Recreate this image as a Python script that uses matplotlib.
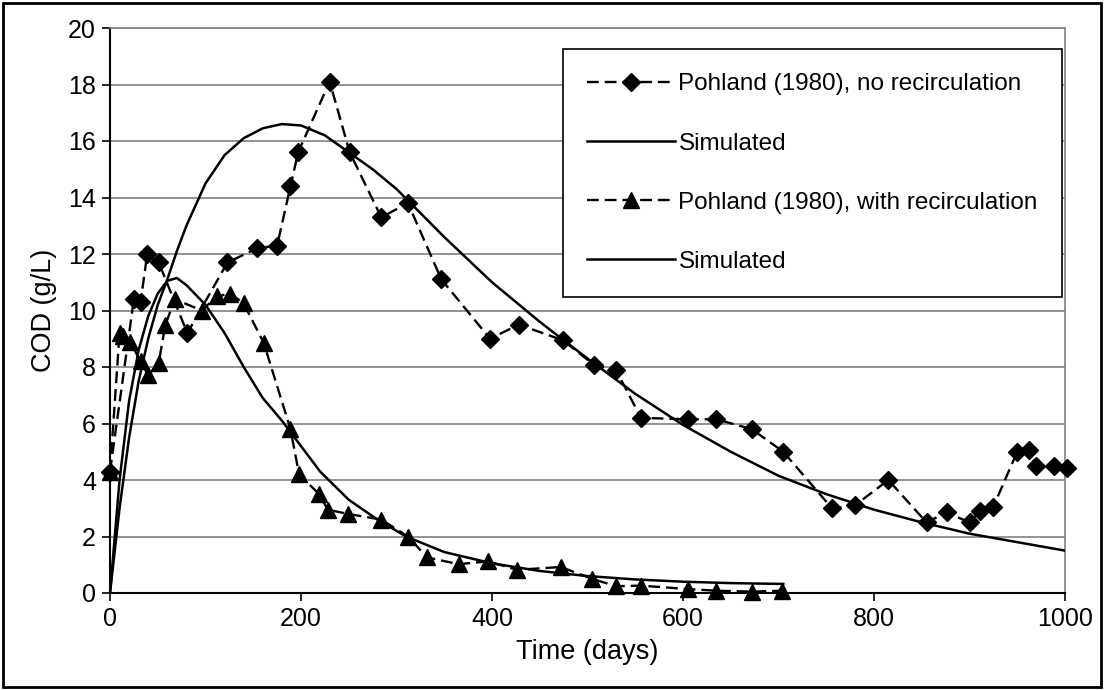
import matplotlib
matplotlib.use("Agg")
import matplotlib.pyplot as plt
from matplotlib.patches import Rectangle

plt.rcParams['font.family'] = ['Liberation Sans', 'DejaVu Sans']

# Observed data, no recirculation
norec_days = [0, 25, 32, 39, 51, 81, 123, 154, 175, 189, 197, 230, 251, 284, 312, 347,
              398, 428, 474, 507, 530, 556, 605, 635, 672, 705, 756, 780, 815, 855,
              876, 900, 911, 925, 950, 962, 970, 989, 1002]
norec_cod = [4.3, 10.4, 10.3, 12.0, 11.7, 9.2, 11.7, 12.2, 12.3, 14.4, 15.6, 18.1, 15.6,
             13.3, 13.8, 11.1, 9.0, 9.5, 8.95, 8.07, 7.88, 6.2, 6.15, 6.15, 5.8, 5.0,
             3.0, 3.1, 4.0, 2.5, 2.85, 2.5, 2.9, 3.06, 5.0, 5.06, 4.5, 4.5, 4.42]

# Simulated, no recirculation
sim_norec_days = [0, 10, 20, 30, 40, 50, 60, 70, 80, 100, 120, 140, 160, 180, 200, 225,
                  250, 275, 300, 350, 400, 450, 500, 550, 600, 650, 700, 750, 800, 850,
                  900, 950, 1000]
sim_norec_cod = [0, 3.0, 5.5, 7.5, 9.0, 10.2, 11.1, 12.1, 13.0, 14.5, 15.5, 16.1, 16.45,
                 16.6, 16.55, 16.2, 15.6, 15.0, 14.3, 12.6, 11.0, 9.6, 8.3, 7.05, 5.95,
                 5.0, 4.15, 3.5, 2.95, 2.5, 2.1, 1.8, 1.5]

# Observed data, with recirculation
rec_days = [0, 10, 14, 21, 32, 40, 51, 58, 68, 96, 112, 126, 140, 161, 189, 198, 219,
            228, 249, 284, 312, 332, 365, 396, 426, 472, 505, 530, 556, 605, 635, 672, 704]
rec_cod = [4.3, 9.2, 9.1, 8.9, 8.2, 7.7, 8.15, 9.5, 10.4, 10.0, 10.5, 10.6, 10.25, 8.85,
           5.8, 4.2, 3.5, 2.95, 2.8, 2.6, 2.0, 1.26, 1.02, 1.12, 0.82, 0.92, 0.5, 0.24,
           0.26, 0.14, 0.08, 0.05, 0.08]

# Simulated, with recirculation
sim_rec_days = [0, 10, 20, 30, 40, 50, 60, 70, 80, 100, 120, 140, 160, 180, 200, 220,
                250, 280, 310, 350, 400, 450, 500, 550, 600, 650, 705]
sim_rec_cod = [0, 4.0, 6.8, 8.6, 9.8, 10.6, 11.05, 11.15, 10.9, 10.2, 9.2, 8.0, 6.9,
               6.1, 5.2, 4.3, 3.3, 2.6, 2.0, 1.45, 1.05, 0.78, 0.6, 0.48, 0.4, 0.35, 0.32]

fig = plt.figure(figsize=(11.04, 6.9), dpi=100)
ax = fig.add_axes([110/1104, 1 - 593/690, (1065-110)/1104, (593-28)/690])

dash = (0, (5, 2.5))
ax.plot(norec_days, norec_cod, color='black', lw=1.7, linestyle=dash, marker='D',
        markersize=9.5, label='Pohland (1980), no recirculation', clip_on=False, zorder=4)
ax.plot(sim_norec_days, sim_norec_cod, color='black', lw=1.8, label='Simulated', zorder=3)
ax.plot(rec_days, rec_cod, color='black', lw=1.7, linestyle=dash, marker='^',
        markersize=11, label='Pohland (1980), with recirculation', clip_on=False, zorder=4)
ax.plot(sim_rec_days, sim_rec_cod, color='black', lw=1.8, label='Simulated', zorder=3)

ax.set_xlim(0, 1000)
ax.set_ylim(0, 20)
ax.set_xticks(range(0, 1001, 200))
ax.set_yticks(range(0, 21, 2))
ax.yaxis.grid(True, color='#808080', lw=1.2)
ax.set_axisbelow(True)
ax.tick_params(axis='both', labelsize=18, direction='out', length=6, width=1.2, pad=4)
for s in ['left', 'bottom']:
    ax.spines[s].set_color('black')
    ax.spines[s].set_linewidth(1.5)
for s in ['top', 'right']:
    ax.spines[s].set_color('#808080')
    ax.spines[s].set_linewidth(1.2)

ax.set_xlabel('Time (days)', fontsize=19.5, labelpad=6)
ax.set_ylabel('COD (g/L)', fontsize=19.5, labelpad=8)

leg = ax.legend(loc='upper left', bbox_to_anchor=((563-110)/955, (593-49)/565),
                fontsize=17.5, frameon=True, fancybox=False, edgecolor='black',
                framealpha=1, handlelength=3.6, handletextpad=0.15, labelspacing=1.53,
                borderpad=1.0, borderaxespad=0)
leg.get_frame().set_linewidth(1.2)

fig.patches.append(Rectangle((0.003, 0.004), 0.994, 0.992, transform=fig.transFigure,
                             fill=False, edgecolor='black', lw=2))

fig.savefig('out.png', dpi=100)
